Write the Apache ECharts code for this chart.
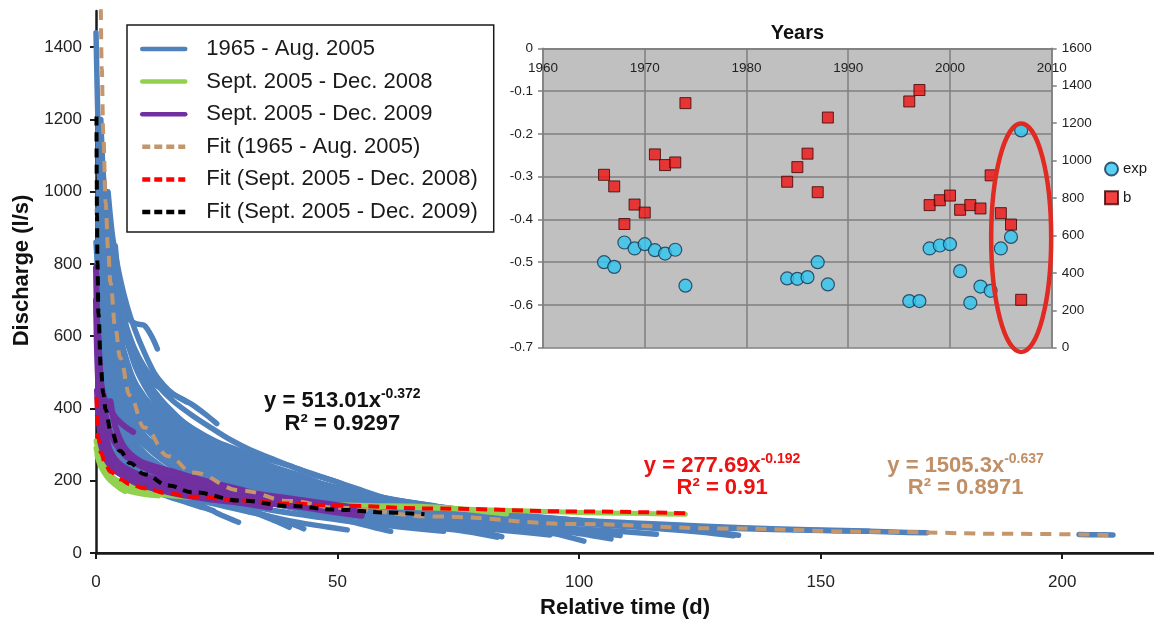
<!DOCTYPE html>
<html>
<head>
<meta charset="utf-8">
<title>Discharge recession curves</title>
<script src="https://cdn.jsdelivr.net/npm/echarts@6/dist/echarts.min.js"></script>
<style>
  html, body { margin: 0; padding: 0; background: #fff; }
  #chart { width: 1154px; height: 624px; }
</style>
</head>
<body>
<div id="chart"></div>
<script>
// ---------- main plot: recession curves (time in days, discharge in l/s) ----------
const timeTicks = [0, 50, 100, 150, 200];
const dischargeTicks = [0, 200, 400, 600, 800, 1000, 1200, 1400];

// Recessions 1965 - Aug. 2005, each as [day, discharge]
const recessions1965to2005 = [
  [[0,1440],[0.3,1250],[0.6,1100],[1,960],[2,800],[3.5,650],[5,560],[7,480],[10,405],[14,345],[19,295],[25,255],[32,220],[40,190],[50,160],[60,138],[70,120],[80,106],[90,95]],
  [[1,1130],[2,960],[3.5,820],[5,720],[7,645],[8.5,634],[10,630],[11.5,600],[12.7,565]],
  [[0.8,1010],[2,880],[4,720],[6,615],[8,545],[11,478],[14,452],[17,432],[20,410],[23,380],[25,358]],
  [[1.5,900],[3,760],[5,645],[7,565],[10,485],[13,432],[16,385],[20,345],[25,308],[30,282],[33,262],[36,240]],
  [[2,860],[4,705],[6,600],[9,500],[12,432],[16,372],[20,334],[26,295],[32,272],[40,242],[45,216],[50,196],[56,162],[62,137],[70,121],[80,106],[90,96],[100,88],[110,82],[121,75]],
  [[1,1200],[1.5,1050],[2.5,900],[4,760],[6,625],[8,545],[11,462],[15,402],[19,352],[24,312],[30,272],[36,242],[42,216],[48,186],[55,160],[62,140],[70,123],[80,108],[90,97],[100,89],[107,81]],
  [[0.5,1100],[1.5,900],[3,700],[5,572],[7,500],[10,432],[13,390],[17,346],[21,312],[27,280],[33,250],[40,221],[47,190],[54,166],[60,150],[70,130],[80,113],[90,101]],
  [[0.5,900],[1.5,700],[3,560],[5,462],[8,382],[12,322],[17,276],[23,241],[30,211],[38,185],[46,161],[55,140],[65,121],[75,106],[86,94]],
  [[1,850],[2,720],[4,560],[6,472],[9,400],[13,340],[18,291],[24,256],[31,226],[39,196],[48,170],[58,146],[68,126],[78,111],[90,98],[100,86],[108,80]],
  [[2,780],[3,680],[5,540],[8,432],[12,362],[16,321],[21,282],[27,251],[34,221],[42,191],[50,171],[60,150],[70,131]],
  [[0.8,700],[2,560],[4,442],[7,362],[10,321],[15,281],[20,251],[26,226],[33,201],[40,181],[48,161],[56,145],[64,131],[72,118],[80,108],[90,96]],
  [[3,900],[4,780],[6,620],[8,520],[11,442],[14,391],[18,341],[22,302],[27,271],[32,246],[38,221],[44,201],[50,181],[56,161],[62,143]],
  [[4,850],[5,720],[7,580],[9,502],[12,432],[15,381],[19,331],[24,291],[30,256]],
  [[0,860],[1,650],[2,522],[4,421],[7,351],[11,301],[16,261],[22,231],[29,206],[37,181],[45,161],[54,141],[63,126],[72,113],[82,101],[92,91],[102,81],[115,72],[125,62],[133,49]],
  [[1,500],[2,420],[4,330],[7,262],[10,216],[14,181],[18,156],[22,131],[25,111],[27.5,96],[29.5,85]],
  [[1,560],[3,402],[6,302],[10,241],[15,196],[20,166],[26,141],[31,121],[36,101],[40,83],[43,67]],
  [[2,450],[4,352],[8,262],[12,216],[17,181],[22,156],[28,131],[33,111],[37,89],[40,71]],
  [[1,620],[3,452],[6,342],[10,271],[15,221],[21,186],[28,161],[35,141],[42,121],[48,101],[54,83],[58,69],[61,60]],
  [[1,700],[3,502],[6,382],[10,302],[15,246],[21,206],[28,176],[36,151],[45,131],[55,113],[64,96],[72,79],[78,63],[84,45]],
  [[2,600],[4,462],[8,342],[13,271],[20,221],[28,186],[37,161],[47,139],[58,119],[68,101],[78,86],[87,71],[95,53],[101,33]],
  [[0.5,800],[2,562],[5,402],[9,312],[15,251],[22,206],[30,176],[40,151],[50,131],[60,113],[70,99],[80,86],[90,71],[99,56],[106.6,39]],
  [[1.5,700],[4,482],[8,362],[13,286],[20,231],[28,196],[37,169],[47,146],[57,126],[67,109],[77,96],[87,83],[96,71],[103,59],[108.5,48]],
  [[1,650],[3,482],[7,352],[12,281],[18,231],[25,196],[33,169],[42,146],[52,126],[62,109],[72,96],[82,86],[90,76],[97.5,64]],
  [[3,700],[6,482],[10,362],[16,281],[23,231],[31,196],[40,169],[50,146],[60,126],[70,111],[80,99],[90,89],[100,81],[110,73],[118,66],[125,58],[132,48]],
  [[2,520],[5,372],[9,291],[14,236],[20,196],[27,166],[35,141],[44,119],[53,101],[62,86],[70,71],[77,59],[83,44]],
  [[0.5,420],[2,322],[4,262],[7,212],[11,176],[15,156],[19,139],[22,126],[24.3,117]],
  [[1,780],[3,542],[6,412],[10,322],[16,256],[23,211],[31,181],[40,156],[50,134],[59,116],[67,101],[74,89],[80,79]],
  [[2,650],[5,442],[9,342],[14,272],[20,226],[27,191],[35,166],[44,144],[53,124],[62,106],[70,91]],
  [[1,1050],[2,822],[3,702],[5,562],[8,452],[12,372],[17,306],[23,256],[30,216],[38,186],[47,161],[57,139],[68,119],[80,104],[95,89],[110,79],[125,71],[140,65],[150,62],[160,60]],
  [[2,900],[3,762],[5,602],[8,472],[12,382],[17,322],[23,272],[30,232],[38,201],[47,173],[57,149],[68,129],[80,111],[95,95],[110,84],[125,75],[140,67],[155,62],[165,58],[172,56]],
  [[203.5,51],[207,50.5],[210.5,50]],
  [[0.3,950],[1,760],[2,620],[3.5,520],[5,455],[7,400],[10,350],[14,305],[19,265],[25,232],[32,205],[40,180],[48,158],[56,138],[64,120],[72,104],[79,88]],
  [[0.5,1000],[1.5,800],[3,640],[5,530],[7,465],[10,410],[14,360],[18,325],[23,292],[28,265],[34,238],[40,212],[46,186],[52,160],[58,140],[66,122],[75,108],[85,97],[95,88]],
  [[2,1000],[3,850],[4.5,720],[6,640],[8,565],[10,515],[13,460],[16,420],[20,380],[24,345],[28,312],[32,285],[37,258],[42,232],[48,205],[54,178],[60,152],[66,135]],
  [[1,900],[2.5,700],[4,600],[6,510],[9,430],[12,385],[16,340],[21,300],[26,270],[31,245],[37,222],[44,198],[51,175],[58,155],[66,136],[75,120],[85,107],[95,96],[104,86],[113,78],[120,72]],
  [[3,600],[5,480],[8,395],[11,345],[15,300],[20,262],[25,235],[31,210],[37,190],[44,170],[52,150],[60,132],[68,117],[77,102],[86,90],[95,78]],
  [[0.2,700],[1,520],[2.5,420],[4.5,350],[7,300],[10,262],[14,230],[19,205],[25,182],[32,162],[40,145],[49,128],[58,112],[67,98],[76,86],[85,75]],
  [[1.5,820],[3,640],[5,520],[8,430],[12,365],[16,322],[21,285],[27,255],[34,228],[41,205],[49,182],[57,160],[65,140],[73,124],[82,110],[92,98],[102,88],[112,80],[125,70]],
  [[4,620],[6,500],[9,410],[13,350],[18,300],[24,262],[30,235],[36,215],[43,193],[50,172],[58,150],[66,130],[74,113]],
  [[5,560],[7,470],[10,400],[14,345],[19,300],[25,266],[31,240],[38,214],[45,190],[52,165],[58,140]],
  [[2,700],[4,540],[7,430],[11,360],[16,305],[22,265],[29,232],[37,205],[46,180],[55,158],[64,138],[73,122],[82,108],[91,95],[100,82]],
  [[1,450],[3,320],[6,250],[10,205],[15,172],[21,148],[27,128],[33,110],[38,95],[43,82],[48,72],[52,64]],
  [[0.5,520],[2,380],[5,285],[9,230],[14,192],[20,165],[27,142],[35,122],[43,105],[51,90],[59,78],[66,68],[72,60]],
  [[2,500],[5,350],[9,270],[14,222],[20,188],[27,162],[35,140],[44,120],[53,104],[62,90],[71,78],[80,68],[88,58],[94,50]],
  [[3,550],[6,400],[10,310],[15,255],[22,212],[30,180],[39,155],[49,134],[59,116],[69,101],[79,88],[89,77],[99,67],[108,60],[116,52]],
  [[1,720],[3,520],[6,400],[10,325],[15,272],[21,232],[28,202],[36,178],[45,157],[55,138],[65,122],[76,108],[88,96],[100,87],[112,79],[122,73]],
  [[2.5,1000],[3.5,870],[5,760],[6.5,680],[8,620],[10,555],[12,500],[14,465],[16,440],[18.8,418]]
];

// Recessions Sept. 2005 - Dec. 2008
const recessions2005to2008 = [
  [[0,310],[0.5,285],[1,265],[2,235],[3,210],[4,190],[5,178],[6,170]],
  [[0,290],[0.5,262],[1.5,230],[3,200],[5,180],[7,170],[10,162],[13,158]],
  [[0.2,270],[1,238],[3,200],[6,180],[10,168],[16,158],[22,152],[30,145],[40,138],[50,133],[58,131],[65,130],[72,126],[78,118],[85,108]],
  [[1,250],[3,215],[6,190],[10,175],[18,160],[28,150],[40,140],[52,132],[65,126],[80,120],[95,114],[105,111],[114,109],[122,107]]
];

// Recessions Sept. 2005 - Dec. 2009
const recessions2005to2009 = [
  [[0,790],[0.2,650],[0.5,540],[1,470],[2,420],[4,375],[6,350],[7.7,335]],
  [[0,700],[0.3,520],[0.8,400],[1.5,330],[2.5,285],[4,255],[6,235],[9,215],[13,195],[18,180],[24,168],[30,155],[37,143],[45,130],[55,110]],
  [[0.2,450],[0.8,340],[1.5,290],[3,245],[5,220],[8,200],[12,185],[17,172],[23,160],[30,150],[38,140],[46,130],[53,120]],
  [[1,300],[2,260],[4,228],[7,205],[10,190],[15,175],[20,165],[27,152],[34,140],[42,128],[50,112],[55,103]],
  [[2,330],[3,280],[5,245],[8,222],[11,210],[15,200],[20,188],[26,175],[32,160]],
  [[4,240],[6,210],[9,190],[13,175],[18,160],[24,148],[30,138],[36,126]],
  [[3,420],[4,350],[6,290],[9,255],[12,240],[16,225],[21,205],[27,185],[33,165]],
  [[0.5,600],[1,480],[2,380],[3,330],[5,285],[8,250],[12,225],[17,205],[23,188],[30,170],[38,155],[46,140],[54,125]],
  [[1,380],[2,300],[4,250],[7,218],[11,198],[16,183],[22,170],[29,158],[37,146],[45,135],[52,122]]
];

// Power-law fit curves, tabulated
const fitDays1965 = [1, 1.2, 1.5, 2, 2.5, 3, 4, 5, 7, 10, 15, 20, 30, 40, 50, 70, 100, 130, 160, 190, 210];
const fitQ1965    = [1505, 1340, 1163, 968, 840, 748, 623, 540, 436, 347, 268, 223, 173, 144, 125, 101, 80, 68, 59, 53, 50];
const fitDays2008 = [0.1, 0.2, 0.5, 1, 2, 3, 5, 7, 10, 15, 20, 30, 40, 50, 70, 100, 122];
const fitQ2008    = [432, 378, 317, 278, 243, 225, 204, 191, 179, 165, 156, 145, 137, 131, 123, 115, 110];
const fitDays2009 = [0.1, 0.15, 0.2, 0.3, 0.5, 1, 1.5, 2, 3, 5, 7, 10, 15, 20, 30, 40, 50, 60, 68];
const fitQ2009    = [1208, 1039, 934, 803, 664, 513, 441, 396, 341, 282, 249, 218, 187, 168, 145, 130, 120, 112, 107];

// ---------- inset: yearly recession parameters ----------
const years    = [1966,1967,1968,1969,1970,1971,1972,1973,1974,1984,1985,1986,1987,1988,1996,1997,1998,1999,2000,2001,2002,2003,2004,2005,2006,2007];
const expValues = [-0.500,-0.511,-0.454,-0.468,-0.458,-0.472,-0.480,-0.471,-0.555,-0.538,-0.539,-0.535,-0.500,-0.552,-0.591,-0.591,-0.468,-0.461,-0.458,-0.521,-0.595,-0.557,-0.567,-0.468,-0.441,-0.192];
const bValues   = [924,862,661,765,722,1033,976,990,1307,887,965,1037,831,1230,1316,1377,762,788,813,737,762,744,921,719,658,256];
const yearTicks = [1960, 1970, 1980, 1990, 2000, 2010];
const expTicks  = [0, -0.1, -0.2, -0.3, -0.4, -0.5, -0.6, -0.7];
const bTicks    = [0, 200, 400, 600, 800, 1000, 1200, 1400, 1600];

// highlighted group in the inset (centre year / exponent, half extents)
const highlight = { year: 2007, exp: -0.443, halfYears: 2.95, halfExp: 0.267 };

const NAME_A = '1965 - Aug. 2005';
const NAME_B = 'Sept. 2005 - Dec. 2008';
const NAME_C = 'Sept. 2005 - Dec. 2009';
const FIT_A = 'Fit (1965 - Aug. 2005)';
const FIT_B = 'Fit (Sept. 2005 - Dec. 2008)';
const FIT_C = 'Fit (Sept. 2005 - Dec. 2009)';

const FONT = '"Liberation Sans", Arial, Helvetica, sans-serif';
const COL_BLUE = '#4f81bd', COL_GREEN = '#92d050', COL_PURPLE = '#7030a0';
const COL_BROWN = '#c4966c', COL_RED = '#ff0000', COL_BLACK = '#000000';

const zip = (xs, ys) => xs.map((x, i) => [x, ys[i]]);
const tickFormatter = ticks => v => (ticks.some(t => Math.abs(t - v) < 1e-6) ? String(Math.round(v * 10) / 10) : '');

function recessionSeries(list, name, color, width, z) {
  return list.map(pts => ({
    type: 'line', name, data: pts, xAxisIndex: 0, yAxisIndex: 0,
    symbol: 'none', smooth: 0.3, silent: true, z,
    itemStyle: { color },
    lineStyle: { color, width, cap: 'round', join: 'round' }
  }));
}
function fitSeries(name, days, q, color, dash) {
  return {
    type: 'line', name, data: zip(days, q), xAxisIndex: 0, yAxisIndex: 0,
    symbol: 'none', smooth: 0.4, smoothMonotone: 'x', silent: true, z: 5,
    itemStyle: { color },
    lineStyle: { color, width: 4, type: dash }
  };
}

const series = [
  ...recessionSeries(recessions1965to2005, NAME_A, COL_BLUE, 5.5, 2),
  ...recessionSeries(recessions2005to2008, NAME_B, COL_GREEN, 5, 3),
  ...recessionSeries(recessions2005to2009, NAME_C, COL_PURPLE, 6, 3),
  fitSeries(FIT_A, fitDays1965, fitQ1965, COL_BROWN, [11, 8]),
  fitSeries(FIT_B, fitDays2008, fitQ2008, COL_RED, [11, 7]),
  fitSeries(FIT_C, fitDays2009, fitQ2009, COL_BLACK, [9, 7]),
  {
    type: 'scatter', name: 'exp', xAxisIndex: 2, yAxisIndex: 1, data: zip(years, expValues),
    symbol: 'circle', symbolSize: 13, z: 6,
    itemStyle: { color: '#2fc6f0', borderColor: '#17324f', borderWidth: 1.2 }
  },
  {
    type: 'scatter', name: 'b', xAxisIndex: 2, yAxisIndex: 2, data: zip(years, bValues),
    symbol: 'rect', symbolSize: 11, z: 6,
    itemStyle: { color: '#ee1111', borderColor: '#3a0505', borderWidth: 1 }
  }
];

const legendLine = (name, color, type) => ({
  name,
  itemStyle: { opacity: 0 },
  lineStyle: { color, width: 4.5, type, opacity: 1 }
});

const chart = echarts.init(document.getElementById('chart'), null, { renderer: 'canvas' });

const option = {
  animation: false,
  backgroundColor: '#ffffff',
  textStyle: { fontFamily: FONT },
  grid: [
    { left: 96, right: 0, top: 11, bottom: 64.7 },
    { left: 543, top: 48.3, width: 508.7, height: 299.4, show: true, backgroundColor: '#c0c0c0', borderWidth: 0, z: 0 }
  ],
  xAxis: [
    {
      gridIndex: 0, type: 'value', min: 0, max: 219, interval: 50, position: 'bottom',
      axisLine: { show: true, onZero: false, lineStyle: { color: '#1a1a1a', width: 2.5 } },
      axisTick: { show: true, length: 6, lineStyle: { color: '#1a1a1a', width: 2 } },
      axisLabel: { fontSize: 17, color: '#222', margin: 21, showMaxLabel: false, formatter: tickFormatter(timeTicks) },
      splitLine: { show: false },
      name: 'Relative time (d)', nameLocation: 'middle', nameGap: 44,
      nameTextStyle: { fontSize: 22, fontWeight: 'bold', color: '#111' }
    },
    {
      gridIndex: 0, type: 'value', min: 0, max: 219, position: 'top',
      axisLine: { show: true, lineStyle: { color: '#1a1a1a', width: 2 } },
      axisTick: { show: false }, axisLabel: { show: false }, splitLine: { show: false }
    },
    {
      gridIndex: 1, type: 'value', min: 1960, max: 2010, interval: 10, position: 'top', z: 1,
      axisLine: { show: true, onZero: false, lineStyle: { color: '#7f7f7f', width: 1.5 } },
      axisTick: { show: false },
      axisLabel: { inside: true, fontSize: 13.5, color: '#222', margin: 13, formatter: tickFormatter(yearTicks) },
      splitLine: { show: true, lineStyle: { color: '#7f7f7f', width: 1.5 } },
      name: 'Years', nameLocation: 'middle', nameGap: 5,
      nameTextStyle: { fontSize: 20, fontWeight: 'bold', color: '#111' }
    }
  ],
  yAxis: [
    {
      gridIndex: 0, type: 'value', min: 0, max: 1500, interval: 200,
      axisLine: { show: true, onZero: false, lineStyle: { color: '#1a1a1a', width: 2.5 } },
      axisTick: { show: true, length: 6, lineStyle: { color: '#1a1a1a', width: 2 } },
      axisLabel: { fontSize: 17, color: '#222', margin: 14, showMaxLabel: false, formatter: tickFormatter(dischargeTicks) },
      splitLine: { show: false },
      name: 'Discharge (l/s)', nameLocation: 'middle', nameGap: 63, nameRotate: 90,
      nameTextStyle: { fontSize: 22, fontWeight: 'bold', color: '#111', padding: [0, 0, 0, 23] }
    },
    {
      gridIndex: 1, type: 'value', min: -0.7, max: 0, interval: 0.1, position: 'left', z: 1,
      axisLine: { show: true, onZero: false, lineStyle: { color: '#7f7f7f', width: 1.5 } },
      axisTick: { show: true, length: 5, lineStyle: { color: '#7f7f7f', width: 1.5 } },
      axisLabel: { fontSize: 13.5, color: '#222', margin: 10, formatter: tickFormatter(expTicks) },
      splitLine: { show: true, lineStyle: { color: '#7f7f7f', width: 1.5 } }
    },
    {
      gridIndex: 1, type: 'value', min: 0, max: 1600, interval: 200, position: 'right', z: 1,
      axisLine: { show: true, onZero: false, lineStyle: { color: '#7f7f7f', width: 1.5 } },
      axisTick: { show: true, length: 5, lineStyle: { color: '#7f7f7f', width: 1.5 } },
      axisLabel: { fontSize: 13.5, color: '#222', margin: 10, formatter: tickFormatter(bTicks) },
      splitLine: { show: false }
    }
  ],
  legend: [
    {
      data: [
        legendLine(NAME_A, COL_BLUE, 'solid'),
        legendLine(NAME_B, COL_GREEN, 'solid'),
        legendLine(NAME_C, COL_PURPLE, 'solid'),
        legendLine(FIT_A, COL_BROWN, [8, 4]),
        legendLine(FIT_B, COL_RED, [8, 4]),
        legendLine(FIT_C, COL_BLACK, [8, 4])
      ],
      orient: 'vertical', left: 127, top: 25,
      padding: [12, 16, 8, 13], itemGap: 8.6, itemWidth: 43, itemHeight: 14,
      backgroundColor: '#ffffff', borderColor: '#1a1a1a', borderWidth: 1.5, borderRadius: 0,
      selectedMode: false,
      textStyle: { fontSize: 22, color: '#1a1a1a', lineHeight: 24, padding: [0, 0, 0, 16] },
      z: 10
    },
    {
      data: ['exp', 'b'], orient: 'vertical', left: 1104, top: 161, padding: 0,
      itemWidth: 13, itemHeight: 13, itemGap: 12.7, selectedMode: false,
      textStyle: { fontSize: 15, color: '#1a1a1a', lineHeight: 16 },
      z: 10
    }
  ],
  series
};

chart.setOption(option);

// equation labels and the highlight ring, anchored in data coordinates
const mainPx = p => chart.convertToPixel({ xAxisIndex: 0, yAxisIndex: 0 }, p);
const insetPx = p => chart.convertToPixel({ xAxisIndex: 2, yAxisIndex: 1 }, p);

function equation(anchorEq, anchorR, base, expo, r2, color) {
  const a = mainPx(anchorEq), b = mainPx(anchorR);
  const rich = {
    m: { fontSize: 22, fontWeight: 'bold', fill: color, fontFamily: FONT, lineHeight: 26 },
    s: { fontSize: 14, fontWeight: 'bold', fill: color, fontFamily: FONT, lineHeight: 14, verticalAlign: 'top' }
  };
  return [
    { type: 'text', x: a[0], y: a[1], z: 20, silent: true,
      style: { text: '{m|' + base + '}{s|' + expo + '}', rich, align: 'center', verticalAlign: 'middle' } },
    { type: 'text', x: b[0], y: b[1], z: 20, silent: true,
      style: { text: r2, fill: color, fontSize: 22, fontWeight: 'bold', fontFamily: FONT, align: 'center', verticalAlign: 'middle' } }
  ];
}

const c = insetPx([highlight.year, highlight.exp]);
const e = insetPx([highlight.year + highlight.halfYears, highlight.exp + highlight.halfExp]);

chart.setOption({
  graphic: [
    ...equation([51, 422], [51, 358], 'y = 513.01x', '-0.372', 'R² = 0.9297', '#111111'),
    ...equation([129.6, 242], [129.6, 179], 'y = 277.69x', '-0.192', 'R² = 0.91', '#ee1111'),
    ...equation([180, 242], [180, 179], 'y = 1505.3x', '-0.637', 'R² = 0.8971', '#c08f66'),
    { type: 'ellipse', z: 20, silent: true,
      shape: { cx: c[0], cy: c[1], rx: Math.abs(e[0] - c[0]), ry: Math.abs(c[1] - e[1]) },
      style: { fill: 'none', stroke: '#e02a22', lineWidth: 4.5 } }
  ]
});
</script>
</body>
</html>
